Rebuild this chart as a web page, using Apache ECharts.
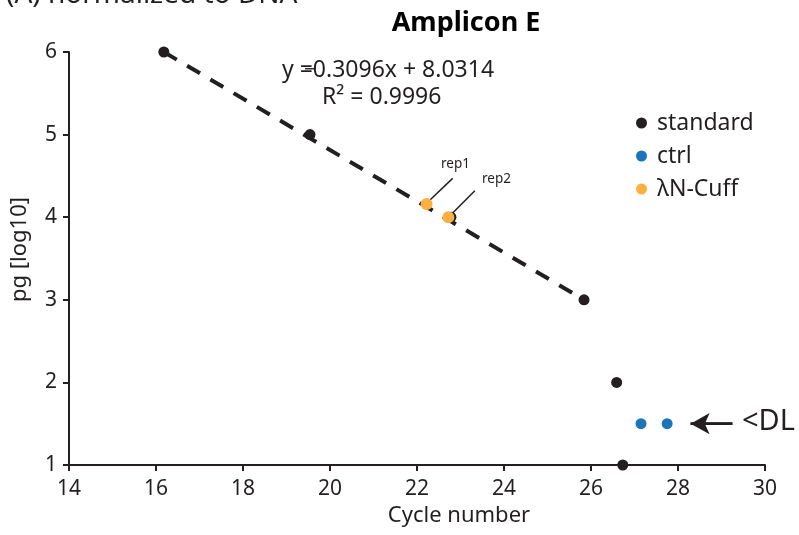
<!DOCTYPE html>
<html>
<head>
<meta charset="utf-8">
<script src="https://cdn.jsdelivr.net/npm/echarts@6/dist/echarts.min.js"></script>
<style>
  html, body { margin: 0; padding: 0; background: #fff; }
  #chart { width: 799px; height: 535px; }
</style>
</head>
<body>
<div id="chart"></div>
<script>
  // values
  const standardX = [16.18, 19.54, 22.78, 25.84, 26.59, 26.73];
  const standardY = [6, 5, 4, 3, 2, 1];
  const ctrlX = [27.15, 27.75];
  const ctrlY = [1.5, 1.5];
  const cuffX = [22.22, 22.72];
  const cuffY = [4.16, 4.0];
  const fitLine = [[16.18, 6], [25.84, 3]];
  const rep1Leader = [[22.28, 4.20], [22.82, 4.47]];
  const rep2Leader = [[22.82, 4.05], [23.33, 4.32]];
  const dlArrow = [[28.29, 1.5], [29.25, 1.5]];

  const font = 'Noto Sans';
  const ink = '#231f20';
  const zip = (xs, ys) => xs.map((x, i) => [x, ys[i]]);

  const chart = echarts.init(document.getElementById('chart'), null, { renderer: 'canvas' });

  const axisLine = { lineStyle: { color: ink, width: 2 } };
  const axisTick = { inside: false, length: 6, lineStyle: { color: ink, width: 2 } };

  const txt = (text, x, y, size) => ({
    type: 'text', x: x, y: y,
    style: { text: text, fontFamily: font, fontSize: size, fill: ink, verticalAlign: 'middle' }
  });

  chart.setOption({
    animation: false,
    title: {
      text: 'Amplicon E',
      left: 461, top: 5, textAlign: 'center',
      textStyle: { fontFamily: font, fontWeight: 'bold', fontSize: 27, color: '#000' }
    },
    legend: {
      orient: 'vertical',
      left: 631, top: 106,
      itemGap: 9,
      itemWidth: 11, itemHeight: 11,
      icon: 'circle',
      data: ['standard', 'ctrl', 'λN-Cuff'],
      textStyle: { fontFamily: font, fontSize: 23, color: ink, lineHeight: 24, padding: [0, 0, 0, 5] }
    },
    grid: { left: 69, right: 34, top: 52, bottom: 70 },
    xAxis: {
      type: 'value', min: 14, max: 30, interval: 2,
      name: 'Cycle number', nameLocation: 'middle', nameGap: 36,
      nameTextStyle: { fontFamily: font, fontSize: 22, color: ink, padding: [0, 0, 0, 84] },
      axisLine: axisLine, axisTick: axisTick, splitLine: { show: false },
      axisLabel: { color: ink, fontFamily: font, fontSize: 21, margin: 14 }
    },
    yAxis: {
      type: 'value', min: 1, max: 6, interval: 1,
      name: 'pg [log10]', nameLocation: 'middle', nameGap: 38,
      nameTextStyle: { fontFamily: font, fontSize: 22, color: ink, padding: [0, 0, 0, 18] },
      axisLine: axisLine, axisTick: axisTick, splitLine: { show: false },
      axisLabel: { color: ink, fontFamily: font, fontSize: 21, margin: 12 }
    },
    series: [
      {
        type: 'line', data: fitLine, symbol: 'none', silent: true,
        lineStyle: { color: ink, width: 4, type: [15, 12] }, z: 1
      },
      {
        type: 'line', data: rep1Leader, symbol: 'none', silent: true,
        lineStyle: { color: ink, width: 1.5 }, z: 1
      },
      {
        type: 'line', data: rep2Leader, symbol: 'none', silent: true,
        lineStyle: { color: ink, width: 1.5 }, z: 1
      },
      {
        // shaft of the <DL arrow
        type: 'line', data: dlArrow, symbol: 'none', silent: true,
        lineStyle: { color: ink, width: 2.5 }, z: 1
      },
      {
        name: 'standard', type: 'scatter', data: zip(standardX, standardY),
        symbolSize: 11, itemStyle: { color: ink, opacity: 1 }, z: 2
      },
      {
        name: 'ctrl', type: 'scatter', data: zip(ctrlX, ctrlY),
        symbolSize: 11, itemStyle: { color: '#1b75bb', opacity: 1 }, z: 3,
        markLine: {
          silent: true, animation: false,
          symbol: ['arrow', 'none'], symbolSize: [16, 19],
          label: { show: false },
          lineStyle: { color: ink, width: 2.5, type: 'solid' },
          data: [[{ coord: dlArrow[0] }, { coord: dlArrow[1] }]]
        }
      },
      {
        name: 'λN-Cuff', type: 'scatter', data: zip(cuffX, cuffY),
        symbolSize: 12, itemStyle: { color: '#fbb040', opacity: 1 }, z: 3
      }
    ],
    graphic: [
      txt('(A) normalized to DNA', 6, -5, 28),
      txt('y =0.3096x + 8.0314', 282, 70, 23),
      txt('\u2212', 304, 70, 20),
      txt('R² = 0.9996', 322, 97, 23),
      txt('rep1', 441, 164, 13.5),
      txt('rep2', 482, 179, 13.5),
      txt('<DL', 742, 422, 29)
    ]
  });
</script>
</body>
</html>
